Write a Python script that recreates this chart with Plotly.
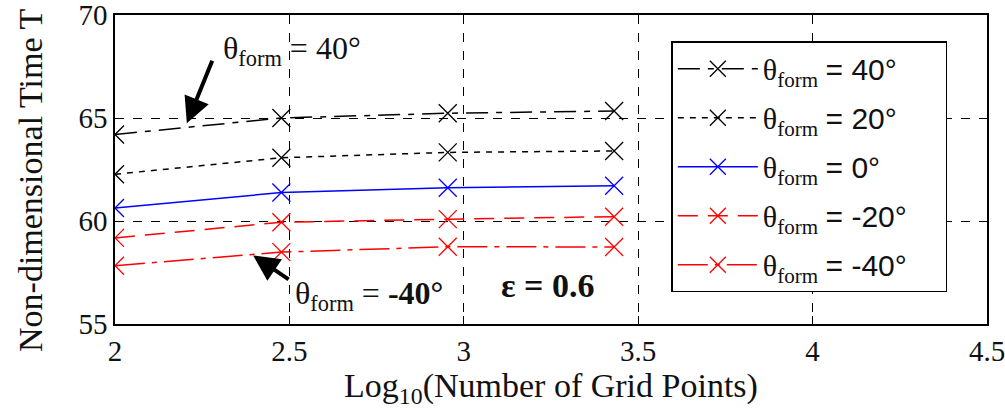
import plotly.graph_objects as go

# log10 of the number of grid points used in each run
log_grid_points = [2.0, 2.477, 2.954, 3.431]

# non-dimensional formation time for each forming angle
time_theta_p40 = [64.2, 65.0, 65.23, 65.34]
time_theta_p20 = [62.27, 63.07, 63.33, 63.40]
time_theta_0 = [60.63, 61.38, 61.61, 61.71]
time_theta_m20 = [59.18, 59.94, 60.09, 60.21]
time_theta_m40 = [57.83, 58.49, 58.75, 58.74]

angle_labels = ["40°", "20°", "0°", "-20°", "-40°"]
x_ticks = [2, 2.5, 3, 3.5, 4, 4.5]
y_ticks = [55, 60, 65, 70]

SERIF = "Liberation Serif"
SANS = "Liberation Sans"
NBSP = "\u00a0"

series = [
    (time_theta_p40, "black", "22px,8px,6px,8px"),
    (time_theta_p20, "black", "6px,6px"),
    (time_theta_0, "blue", "solid"),
    (time_theta_m20, "red", "20px,10px"),
    (time_theta_m40, "red", "30px,7px,5px,7px"),
]


def legend_label(angle):
    return ("θ<sub>form</sub> <span style='font-family:%s;font-size:30px'>"
            "= %s%s</span>" % (SANS, angle, NBSP * 4))


fig = go.Figure()
for i, ((values, color, dash), angle) in enumerate(zip(series, angle_labels)):
    fig.add_trace(go.Scatter(
        x=log_grid_points,
        y=values,
        mode="lines+markers",
        name=legend_label(angle),
        legendgroup="g%d" % i,
        line=dict(color=color, width=1.5, dash=dash),
        marker=dict(symbol="x-thin", size=18,
                    line=dict(color=color, width=1.3)),
    ))

axis_common = dict(
    showline=True, linecolor="black", linewidth=1.5, mirror="ticks",
    ticks="inside", ticklen=8, tickcolor="black", tickwidth=1.2,
    showgrid=True, gridcolor="black", gridwidth=1, griddash="dash",
    zeroline=False, ticklabeloverflow="allow", automargin=False,
    tickfont=dict(family=SERIF, size=29, color="#111"),
)

fig.update_xaxes(
    range=[2, 4.5], tickvals=x_ticks,
    ticktext=[("%g" % v) for v in x_ticks],
    title=dict(text="Log<sub>10</sub>(Number of Grid Points)",
               font=dict(family=SERIF, size=34, color="#111"), standoff=2),
    **axis_common,
)
fig.update_yaxes(
    range=[55, 70], tickvals=y_ticks,
    ticktext=[str(v) for v in y_ticks],
    **axis_common,
)

# y-axis title, placed a little below the plot's mid-height
fig.add_annotation(x=-0.0975, y=0.466, xref="paper", yref="paper",
                   xanchor="center", yanchor="middle", showarrow=False,
                   textangle=-90, text="Non-dimensional Time T",
                   font=dict(family=SERIF, size=34, color="#111"))

# callout for the +40° curve
fig.add_annotation(x=2.206, y=64.74, xref="x", yref="y", ax=26, ay=-64,
                   text="", showarrow=True, arrowhead=2, arrowsize=1.3,
                   arrowwidth=4, arrowcolor="black")
fig.add_annotation(x=2.305, y=68.3, xref="x", yref="y",
                   xanchor="left", yanchor="middle", showarrow=False,
                   text="θ<sub>form</sub> = 40°",
                   font=dict(family=SERIF, size=32, color="#111"))

# callout for the -40° curve
fig.add_annotation(x=2.396, y=58.33, xref="x", yref="y", ax=37, ay=25,
                   text="", showarrow=True, arrowhead=2, arrowsize=1.3,
                   arrowwidth=4, arrowcolor="black")
fig.add_annotation(x=2.51, y=56.4, xref="x", yref="y",
                   xanchor="left", yanchor="middle", showarrow=False,
                   text="θ<sub>form</sub> = <b>-40°</b>",
                   font=dict(family=SERIF, size=32, color="#111"))

fig.add_annotation(x=3.1, y=56.85, xref="x", yref="y",
                   xanchor="left", yanchor="middle", showarrow=False,
                   text="<b>ε = 0.6</b>",
                   font=dict(family=SERIF, size=34, color="#111"))

fig.update_layout(
    width=1005, height=410,
    margin=dict(l=115, r=18, t=15, b=86),
    paper_bgcolor="white", plot_bgcolor="white",
    showlegend=True,
    legend=dict(
        x=0.638, y=0.915, xanchor="left", yanchor="top",
        bgcolor="white", bordercolor="black", borderwidth=1.5,
        font=dict(family=SERIF, size=30, color="#111"),
        traceorder="grouped", tracegroupgap=7,
        itemwidth=80,
    ),
)

fig.write_html("out.html")
